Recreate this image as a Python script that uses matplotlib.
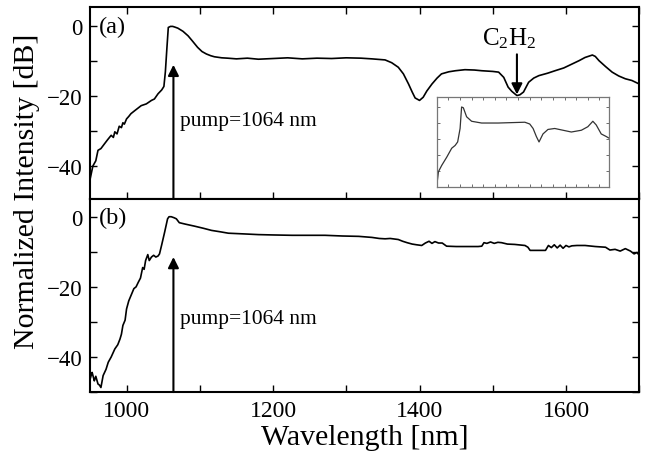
import matplotlib
matplotlib.use("Agg")
import matplotlib.pyplot as plt
from matplotlib.ticker import MultipleLocator

plt.rcParams["font.family"] = ["Liberation Serif", "DejaVu Serif"]
plt.rcParams["mathtext.fontset"] = "custom"
plt.rcParams["mathtext.rm"] = "Liberation Serif"
plt.rcParams["mathtext.it"] = "Liberation Serif:italic"

# panel (a): spectrum with gas cell
wl_a = [950, 954, 958, 961, 965, 970, 974, 979, 982, 984,
        987, 990, 993, 995, 997, 1000, 1003, 1006, 1012, 1020,
        1027, 1034, 1038, 1043, 1048, 1051, 1053, 1055, 1057, 1060,
        1063, 1066, 1070, 1077, 1084, 1090, 1097, 1103, 1109, 1115,
        1120, 1130, 1138, 1150, 1165, 1180, 1200, 1220, 1240, 1260,
        1280, 1300, 1320, 1335, 1353, 1362, 1371, 1378, 1385, 1390,
        1394, 1400, 1405, 1410, 1417, 1424, 1430, 1440, 1449, 1462,
        1475, 1485, 1500, 1508, 1515, 1521, 1526, 1530, 1533, 1537,
        1542, 1549, 1556, 1563, 1575, 1585, 1597, 1608, 1618, 1626,
        1636, 1640, 1645, 1654, 1663, 1672, 1681, 1690, 1695, 1700]
int_a = [-44, -40, -38.5, -35.5, -35, -33.6, -32.5, -31.2, -31.8, -30.2,
         -30.8, -28.6, -29, -27.6, -28, -26.5, -25.8, -25, -24, -22.7,
         -22.2, -21.2, -20.8, -19.3, -18.2, -17.2, -13, -6.5, -0.3, 0,
         0, -0.2, -0.5, -1.4, -2.7, -4.2, -6, -7.2, -7.9, -8.4,
         -8.7, -9, -9.1, -9.3, -9.1, -9.4, -9.2, -9.0, -9.3, -9.1,
         -9.2, -9.0, -9.1, -9.3, -9.6, -10.4, -11.7, -13.6, -16.5, -18.8,
         -20.5, -21.2, -20.3, -18.5, -16.5, -14.8, -13.6, -13, -12.7, -12.4,
         -12.5, -12.7, -12.9, -13.1, -14.6, -17.4, -18.6, -19.3, -19.8, -19.6,
         -18.8, -16, -14.8, -14.1, -13.4, -12.7, -11.9, -10.8, -9.8, -8.9,
         -8.2, -8.6, -9.8, -11.5, -13.1, -14.2, -15, -15.5, -16, -16.5]

# panel (b)
wl_b = [950, 952, 953, 955, 956, 958, 961, 963, 965, 968,
        972, 975, 979, 984, 988, 991, 993, 995, 998, 1000,
        1003, 1006, 1010, 1013, 1016, 1019, 1022, 1024, 1026, 1029,
        1031, 1034, 1037, 1040, 1043, 1045, 1048, 1052, 1056, 1058,
        1061, 1065, 1068, 1072, 1080, 1093, 1105, 1116, 1128, 1139,
        1160, 1180, 1200, 1226, 1250, 1271, 1295, 1317, 1335, 1345,
        1353, 1360, 1371, 1377, 1383, 1390, 1396, 1403, 1408, 1413,
        1417, 1421, 1426, 1431, 1437, 1450, 1465, 1480, 1485, 1488,
        1492, 1497, 1502, 1507, 1512, 1520, 1530, 1544, 1548, 1551,
        1560, 1572, 1576, 1580, 1584, 1588, 1592, 1596, 1600, 1604,
        1608, 1615, 1626, 1640, 1654, 1660, 1667, 1674, 1681, 1688,
        1693, 1697, 1700]
int_b = [-46.5, -45, -44.4, -46, -46.8, -45.5, -47.7, -48, -48.7, -45.3,
         -43.5, -41.5, -40, -37.7, -36.5, -34.9, -33.5, -31, -29.5, -26.3,
         -24, -22.5, -20.5, -20, -18.7, -17.5, -14.5, -15, -12.5, -10.8,
         -12.5, -11.5, -11, -11.5, -11.2, -10.6, -8, -4.4, -0.6, 0,
         0, -0.3, -0.6, -1.7, -2.1, -2.7, -3.3, -3.9, -4.3, -4.7,
         -4.9, -5.1, -5.2, -5.3, -5.3, -5.3, -5.5, -5.6, -5.9, -6.2,
         -6.3, -6.2, -6.5, -7.0, -7.4, -7.8, -8.0, -8.2, -7.5, -7.0,
         -7.6, -7.1, -7.5, -7.5, -8.4, -8.5, -8.5, -8.5, -8.4, -7.4,
         -7.6, -7.2, -7.6, -7.3, -7.4, -7.8, -7.9, -8.2, -8.7, -9.6,
         -9.6, -9.6, -8.2, -8.8, -8.0, -8.9, -8.1, -9.0, -8.2, -8.6,
         -8.3, -8.2, -8.2, -8.5, -8.7, -9.5, -9.3, -9.8, -9.1, -9.8,
         -10.6, -10.2, -11]

# inset trace (arbitrary units)
inset_x = [0, 0.15, 0.43, 0.86, 1.29, 1.58, 1.80, 2.01, 2.14, 2.29,
           2.57, 3.0, 3.86, 5.29, 7.58, 8.0, 8.29, 8.57, 8.8, 9.14,
           9.57, 10.15, 11.58, 12.44, 13.0, 13.43, 13.72, 14.15, 14.58, 14.86]
inset_y = [0.06, 0.95, 1.34, 1.85, 2.41, 2.58, 2.8, 3.64, 4.98, 4.93,
           4.37, 4.09, 3.98, 3.98, 4.03, 3.92, 3.64, 3.14, 2.8, 3.3,
           3.58, 3.64, 3.42, 3.53, 3.75, 4.09, 3.86, 3.3, 3.14, 3.02]

pump_wl = 1064
gas_wl = 1533

fig = plt.figure(figsize=(6.47, 4.56), dpi=100)
ax_a = fig.add_axes([0.139, 0.561, 0.849, 0.421])
ax_b = fig.add_axes([0.139, 0.138, 0.849, 0.423])


def style_axis(ax, ylim):
    ax.set_xlim(950, 1700)
    ax.set_ylim(*ylim)
    ax.xaxis.set_major_locator(MultipleLocator(200))
    ax.xaxis.set_minor_locator(MultipleLocator(100))
    ax.yaxis.set_major_locator(MultipleLocator(20))
    ax.yaxis.set_minor_locator(MultipleLocator(10))
    ax.tick_params(which="both", direction="in", top=True, right=True,
                   length=5, width=1.0)
    ax.tick_params(axis="x", labelsize=17, pad=6)
    ax.tick_params(axis="y", labelsize=16.5, pad=5)
    for s in ax.spines.values():
        s.set_linewidth(1.5)


style_axis(ax_a, (-49.5, 5.5))
style_axis(ax_b, (-50, 5))
ax_a.tick_params(labelbottom=False)
ax_b.tick_params(which="both", top=False)

ax_a.plot(wl_a, int_a, color="black", lw=1.2)
ax_b.plot(wl_b, int_b, color="black", lw=1.2)

arrow = dict(arrowstyle="-|>", color="black", lw=1.5, mutation_scale=16,
             shrinkA=0, shrinkB=0)
ax_a.annotate("", xy=(pump_wl, -11), xytext=(pump_wl, -49.5), arrowprops=arrow)
ax_b.annotate("", xy=(pump_wl, -11.5), xytext=(pump_wl, -50), arrowprops=arrow)
ax_a.text(1073, -27, "pump=1064 nm", fontsize=15.5, va="center", ha="left")
ax_b.text(1073, -29, "pump=1064 nm", fontsize=15.5, va="center", ha="left")

ax_a.annotate("", xy=(gas_wl, -19.5), xytext=(gas_wl, -8), arrowprops=arrow)
ax_a.text(1523, -6.8, r"C$_2$H$_2$", fontsize=18, ha="center", va="bottom")

ax_a.text(0.017, 0.90, "(a)", transform=ax_a.transAxes, fontsize=17.5,
          ha="left", va="center")
ax_b.text(0.017, 0.905, "(b)", transform=ax_b.transAxes, fontsize=17.5,
          ha="left", va="center")

ax_b.set_xlabel("Wavelength [nm]", fontsize=21.5, labelpad=2)
fig.text(0.042, 0.58, "Normalized Intensity [dB]", rotation=90,
         fontsize=21.5, ha="center", va="center")

# inset
ins = fig.add_axes([0.675, 0.588, 0.267, 0.197])
ins.plot(inset_x, inset_y, color="#333333", lw=0.9)
ins.set_xlim(0, 14.86)
ins.set_ylim(0, 5.6)
ins.xaxis.set_major_locator(MultipleLocator(1))
ins.yaxis.set_major_locator(MultipleLocator(1))
ins.tick_params(direction="in", top=True, right=True, length=2, width=0.6,
                colors="#555555", labelbottom=False, labelleft=False)
for s in ins.spines.values():
    s.set_color("#777777")
    s.set_linewidth(0.9)

fig.savefig("out.png", dpi=100)
